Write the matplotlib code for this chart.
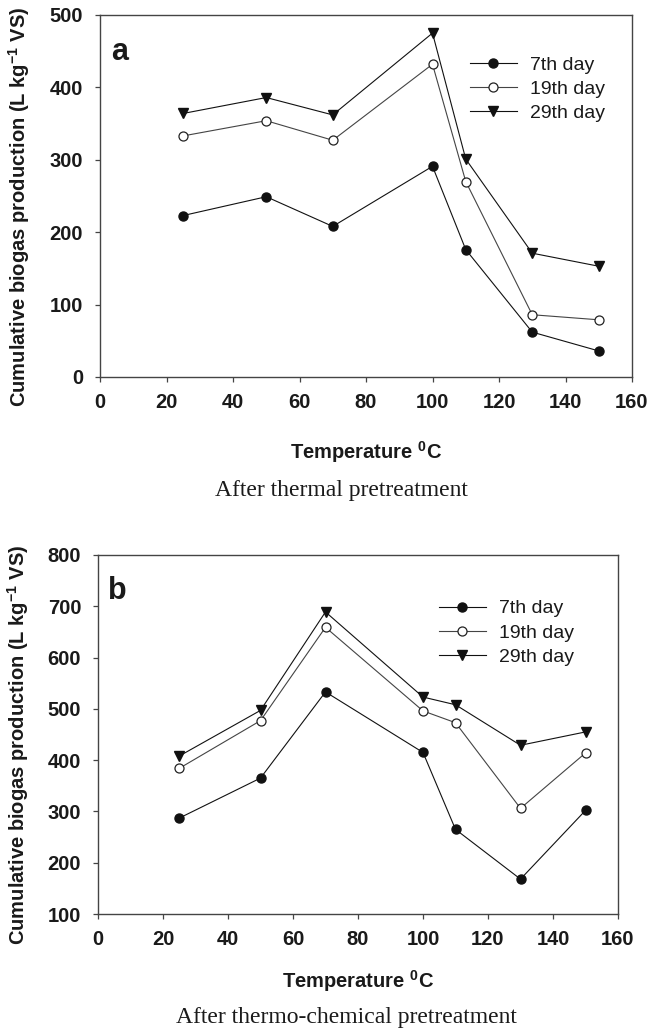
import matplotlib
matplotlib.use('Agg')
import matplotlib.pyplot as plt

# DATI
temps = [25, 50, 70, 100, 110, 130, 150]
labels = ['7th day', '19th day', '29th day']

thermal_7 = [223, 249, 208, 291, 176, 62, 36]
thermal_19 = [333, 354, 327, 432, 270, 86, 79]
thermal_29 = [364, 386, 362, 475, 301, 171, 153]

chem_7 = [287, 365, 533, 415, 265, 168, 302]
chem_19 = [384, 477, 659, 496, 473, 306, 414]
chem_29 = [408, 497, 689, 523, 508, 429, 455]

x_ticks = [0, 20, 40, 60, 80, 100, 120, 140, 160]

plt.rcParams['font.family'] = ['Liberation Sans', 'DejaVu Sans']
plt.rcParams['mathtext.fontset'] = 'custom'
plt.rcParams['mathtext.rm'] = 'Liberation Sans'
plt.rcParams['mathtext.bf'] = 'Liberation Sans:bold'

YLABEL = r'Cumulative biogas production (L kg$^{\mathbf{-1}}$ VS)'
XLABEL = r'Temperature $^{\mathbf{0}}$C'


def draw_panel(ax, s7, s19, s29, ylim, yticks, letter, leg_anchor):
    ax.plot(temps, s7, color='#111111', lw=0.8, marker='o', ms=6.5,
            mfc='#111111', mec='#111111', label=labels[0])
    ax.plot(temps, s19, color='#444444', lw=0.8, marker='o', ms=6.5,
            mfc='white', mec='#222222', mew=0.9, label=labels[1])
    ax.plot(temps, s29, color='#111111', lw=0.8, marker='v', ms=7,
            mfc='#111111', mec='#111111', label=labels[2])

    ax.set_xlim(0, 160)
    ax.set_ylim(*ylim)
    ax.set_xticks(x_ticks)
    ax.set_yticks(yticks)
    for side in ['left', 'bottom', 'top', 'right']:
        ax.spines[side].set_color('#444444')
        ax.spines[side].set_linewidth(1.0)
    ax.tick_params(axis='both', direction='out', length=3.6, width=0.9,
                   color='#444444', labelsize=14.5, top=False, right=False)
    ax.tick_params(axis='y', pad=8.5)
    ax.tick_params(axis='x', pad=8)
    for t in ax.get_xticklabels() + ax.get_yticklabels():
        t.set_fontweight('bold')
        t.set_color('#1a1a1a')

    ax.set_ylabel(YLABEL, fontsize=14.5, fontweight='bold', color='#1a1a1a')
    ax.yaxis.set_label_coords(-0.128, 0.47)

    ax.text(0.02, 0.877, letter, transform=ax.transAxes, fontsize=22,
            fontweight='bold', ha='left', va='baseline', color='#1a1a1a')

    leg = ax.legend(loc='upper left', bbox_to_anchor=leg_anchor, frameon=False,
                    fontsize=14, handlelength=2.4, handletextpad=0.67,
                    labelspacing=0.33, borderpad=0, borderaxespad=0, numpoints=1)
    for t in leg.get_texts():
        t.set_color('#1a1a1a')


fig = plt.figure(figsize=(6.53, 10.29), dpi=100)

ax1 = fig.add_axes([100 / 653, 1 - 377 / 1029, 532 / 653, 362 / 1029])
draw_panel(ax1, thermal_7, thermal_19, thermal_29, (0, 500),
           [0, 100, 200, 300, 400, 500], 'a', (0.6955, 0.887))
fig.text(366 / 653, 1 - 459 / 1029, XLABEL, ha='center', va='baseline',
         fontsize=14.5, fontweight='bold', color='#1a1a1a')
fig.text(341 / 653, 1 - 496 / 1029, 'After thermal pretreatment', ha='center',
         va='baseline', fontsize=17, family='Liberation Serif', color='#1a1a1a')

ax2 = fig.add_axes([98 / 653, 1 - 914 / 1029, 520 / 653, 359 / 1029])
draw_panel(ax2, chem_7, chem_19, chem_29, (100, 800),
           [100, 200, 300, 400, 500, 600, 700, 800], 'b', (0.656, 0.875))
fig.text(358 / 653, 1 - 988 / 1029, XLABEL, ha='center', va='baseline',
         fontsize=14.5, fontweight='bold', color='#1a1a1a')
fig.text(346 / 653, 1 - 1023 / 1029, 'After thermo-chemical pretreatment',
         ha='center', va='baseline', fontsize=17, family='Liberation Serif',
         color='#1a1a1a')

fig.savefig('out.png', dpi=100)
